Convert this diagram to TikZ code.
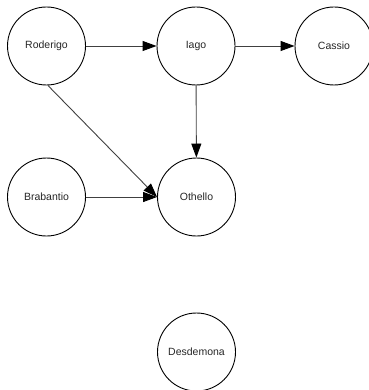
\documentclass[tikz,border=0pt]{standalone}
\usepackage{fontspec}
\setmainfont{Liberation Sans}
\usetikzlibrary{arrows.meta}
\begin{document}
\begin{tikzpicture}[x=1pt,y=-1pt,
  person/.style={circle,draw=black,line width=0.9pt,minimum size=78pt,inner sep=0pt,font=\fontsize{10.5}{12}\selectfont,text=black!85},
  rel/.style={draw=black!75,line width=0.9pt,-{Triangle[length=14pt,width=10pt,color=black]}}]
\useasboundingbox (0,0) rectangle (368,390);
\node[person] (rod) at (46.5,46) {Roderigo};
\node[person] (iago) at (196,46) {Iago};
\node[person] (cas) at (334,46) {Cassio};
\node[person] (bra) at (46.5,197) {Brabantio};
\node[person] (oth) at (196.5,197) {Othello};
\node[person] (des) at (196.5,352) {Desdemona};
\draw[rel] (rod) -- (iago);
\draw[rel] (iago) -- (cas);
\draw[rel] (iago) -- (oth);
\draw[rel] (bra) -- (oth);
\draw[rel] (rod.-88) -- (oth.west);
\end{tikzpicture}
\end{document}
